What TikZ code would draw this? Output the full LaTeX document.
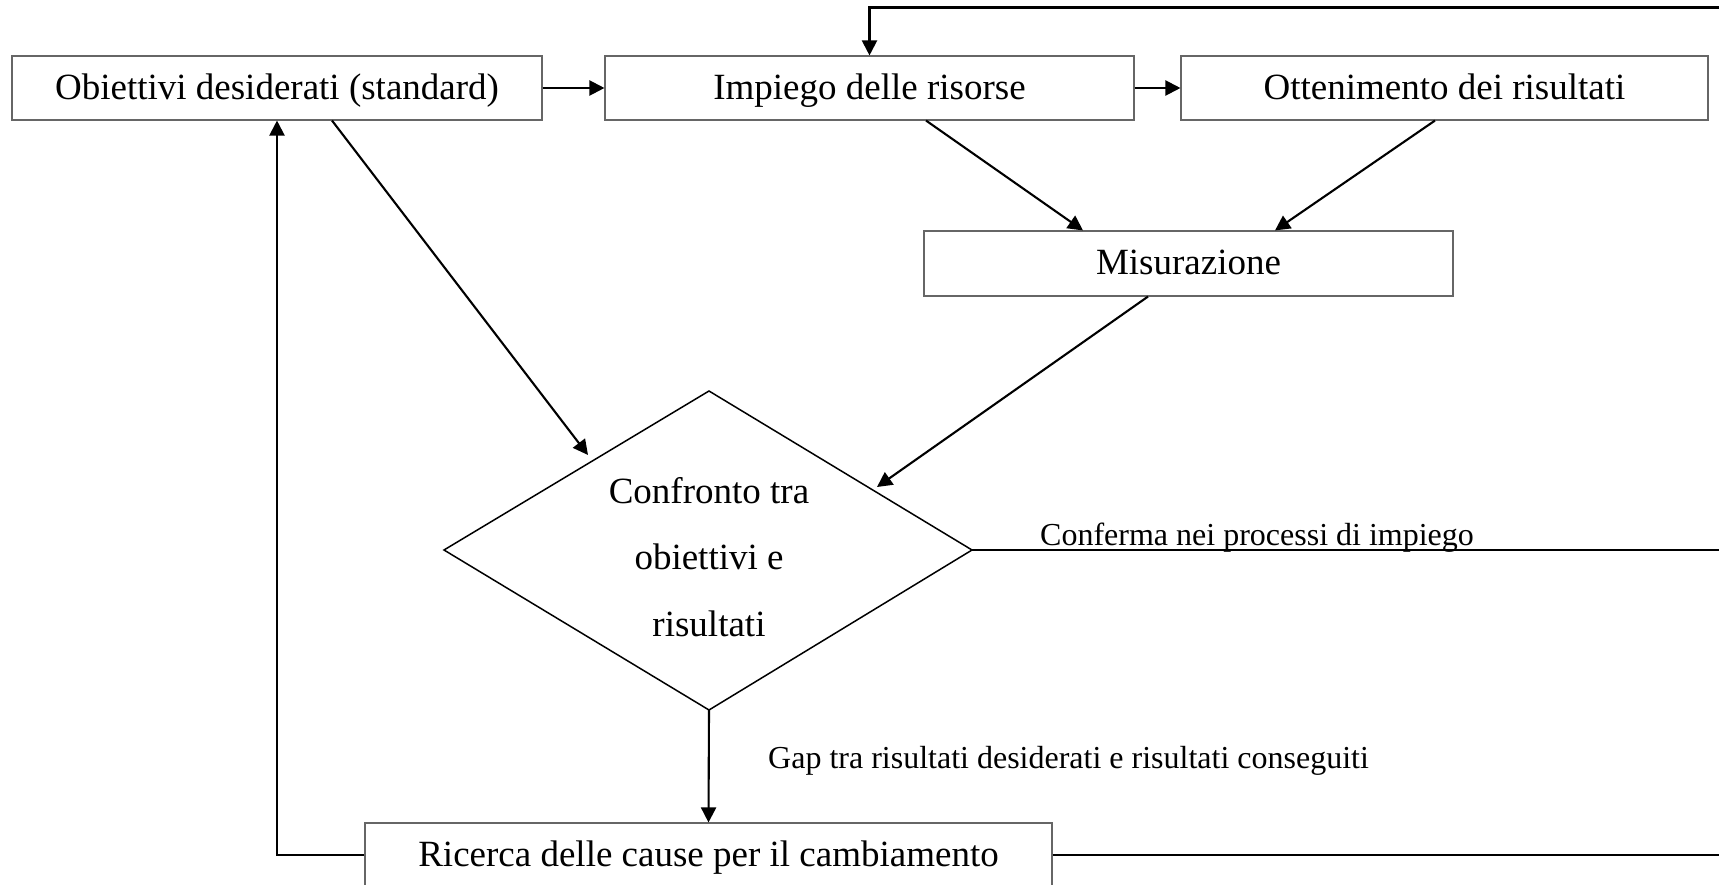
\documentclass[tikz,border=0pt]{standalone}
\usepackage{fontspec}
\setmainfont{Liberation Serif}
\usetikzlibrary{arrows.meta,calc}
\begin{document}
\begin{tikzpicture}[x=1pt,y=-1pt,
  box/.style={draw=black!60, line width=1.1pt, minimum height=64pt, inner sep=0pt, text height=30pt, text depth=7pt, font=\fontsize{37}{40}\selectfont},
  conn/.style={line width=2.1pt, -{Triangle[length=15pt,width=15pt]}},
  plain/.style={line width=2.1pt},
  lbl/.style={font=\fontsize{32}{36}\selectfont, inner sep=0pt, anchor=base west},
  dia/.style={line width=1.5pt, line join=miter}]
\useasboundingbox (0,0) rectangle (1719,885);
\clip (0,0) rectangle (1719,885);
% boxes
\node[box, minimum width=530pt] (obj) at (277,88) {Obiettivi desiderati (standard)};
\node[box, minimum width=529pt] (imp) at (869.5,88) {Impiego delle risorse};
\node[box, minimum width=527pt] (ott) at (1444.5,88) {Ottenimento dei risultati};
\node[box, minimum width=529pt, minimum height=65pt] (mis) at (1188.5,263.5) {Misurazione};
\node[box, minimum width=687pt] (ric) at (708.5,855) {Ricerca delle cause per il cambiamento};
% diamond
\coordinate (dl) at (444,550);
\coordinate (dt) at (709,391);
\coordinate (dr) at (972,550);
\coordinate (db) at (709,710);
\draw[dia] (dl) -- (dt) -- (dr) -- (db) -- cycle;
\node[align=center, inner sep=0pt, font=\fontsize{37}{66.5}\selectfont] (cmp) at (709,557) {Confronto tra\\obiettivi e\\risultati};
% free ends
\coordinate (topR) at (1719,7.5);
\coordinate (confR) at (1719,550);
\coordinate (d1) at (588,455);
\coordinate (d2) at (877,487);
% connectors
\draw[conn] (obj) -- (imp);
\draw[conn] (imp) -- (ott);
\draw[conn] (topR) -| (imp.north);
\draw[conn] ([xshift=56.5pt]imp.south) -- ([xshift=-105.5pt]mis.north);
\draw[conn] ([xshift=-9.5pt]ott.south) -- ([xshift=86.5pt]mis.north);
\draw[conn] ([xshift=55pt]obj.south) -- (d1);
\draw[conn] ([xshift=-40.5pt]mis.south) -- (d2);
\draw[plain] (dr) -- (confR);
\node[lbl] (lconf) at (1040,545) {Conferma nei processi di impiego};
\draw[conn] (db) -- (ric.north);
\node[lbl] (lgap) at (768,768) {Gap tra risultati desiderati e risultati conseguiti};
\draw[conn] (ric.west) -| (obj.south);
\draw[plain] (ric.east) -- (ric.east -| confR);
\end{tikzpicture}
\end{document}
